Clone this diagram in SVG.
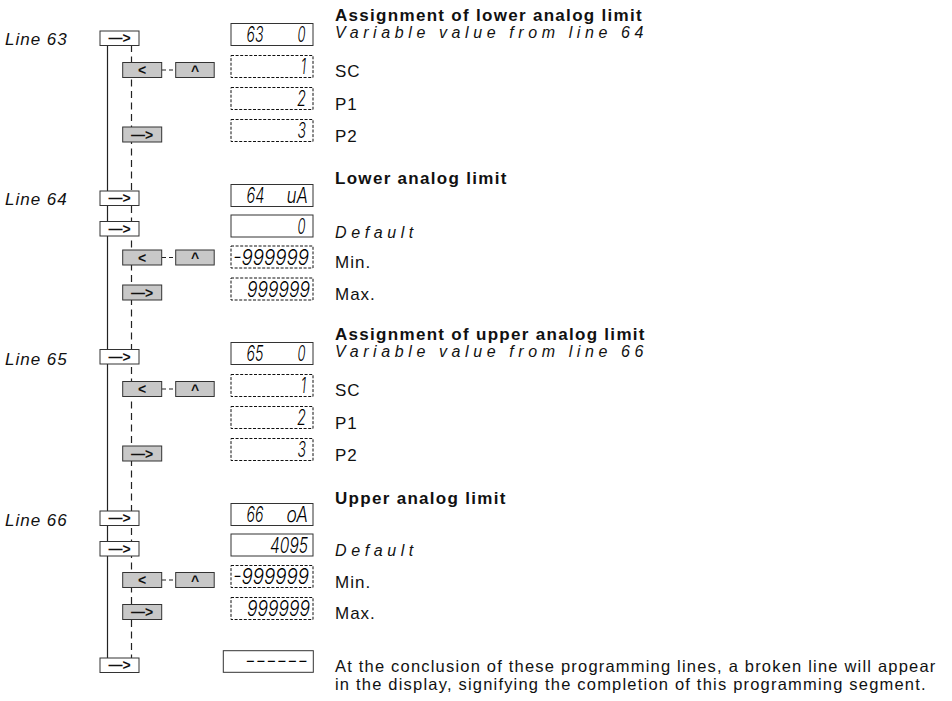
<svg xmlns="http://www.w3.org/2000/svg" width="952" height="701" viewBox="0 0 952 701">
<style>
text{fill:#111}
.lbl{font-family:"Liberation Sans",Arial,sans-serif;font-size:17px;font-style:italic;letter-spacing:1px}
.h{font-family:"Liberation Sans",Arial,sans-serif;font-size:17px;font-weight:bold;letter-spacing:1.3px}
.it{font-family:"Liberation Sans",Arial,sans-serif;font-size:16px;font-style:italic;letter-spacing:4.6px}
.t{font-family:"Liberation Sans",Arial,sans-serif;font-size:17px;letter-spacing:1px}
.p{font-family:"Liberation Sans",Arial,sans-serif;font-size:16.5px;letter-spacing:1.2px}
.seg{font-family:Inter,"DejaVu Sans",sans-serif;font-size:22px;font-weight:300;font-style:italic}
text.seg{fill:#000}
.btn{fill:#fff;stroke:#333;stroke-width:1}
.gbtn{fill:#c8c8c8;stroke:#333;stroke-width:1}
.k{font-family:"Liberation Sans",Arial,sans-serif;font-size:14px;font-weight:bold;text-anchor:middle}
.disp{fill:#fff;stroke:#333;stroke-width:1}
.dd{fill:#fff;stroke:#111;stroke-width:1;stroke-dasharray:3 1.6}
.solid{stroke:#222;stroke-width:1.2;fill:none}
.dash{stroke:#222;stroke-width:1.2;fill:none;stroke-dasharray:7 4.5}
.hd{stroke:#222;stroke-width:1.2;fill:none;stroke-dasharray:4 3}
</style>

<g id="connectors">
<line class="solid" x1="107.5" y1="45" x2="107.5" y2="658"/>
<line class="dash" x1="131.5" y1="45" x2="131.5" y2="658"/>
<line class="hd" x1="162" y1="70" x2="176" y2="70"/>
<line class="hd" x1="162" y1="257.5" x2="176" y2="257.5"/>
<line class="hd" x1="162" y1="389" x2="176" y2="389"/>
<line class="hd" x1="162" y1="580" x2="176" y2="580"/>
</g>

<!-- Section Line 63 -->
<g id="line63">
<text class="lbl" x="5" y="45">Line 63</text>
<rect class="btn" x="100" y="31" width="39" height="14.5"/>
<text class="k" x="119.5" y="43">—&gt;</text>
</g>
<g id="sec63-keys">
<rect class="gbtn" x="122.7" y="62.5" width="39" height="15"/>
<text class="k" x="142.2" y="75">&lt;</text>
<rect class="gbtn" x="175.7" y="62.5" width="38.5" height="15"/>
<text class="k" x="195" y="75.5">^</text>
<rect class="gbtn" x="122.7" y="127" width="39" height="15"/>
<text class="k" x="142.2" y="139.5">—&gt;</text>
</g>
<g id="disp63">
<rect class="disp" x="231" y="23.5" width="82" height="22"/>
<text class="seg" x="246.5" y="42.3" textLength="17" lengthAdjust="spacingAndGlyphs">63</text>
<text class="seg" x="297.5" y="42.3" textLength="8" lengthAdjust="spacingAndGlyphs">0</text>
<rect class="dd" x="231" y="55.5" width="82" height="22"/>
<text class="seg" x="301" y="74.3" textLength="5" lengthAdjust="spacingAndGlyphs">1</text>
<rect class="dd" x="231" y="87.5" width="82" height="22"/>
<text class="seg" x="297" y="106.3" textLength="9" lengthAdjust="spacingAndGlyphs">2</text>
<rect class="dd" x="231" y="119.5" width="82" height="22"/>
<text class="seg" x="297.5" y="138.3" textLength="8.5" lengthAdjust="spacingAndGlyphs">3</text>
</g>
<g id="text63">
<text class="h" x="335" y="21">Assignment of lower analog limit</text>
<text class="it" x="335" y="38">Variable value from line 64</text>
<text class="t" x="335" y="77">SC</text>
<text class="t" x="335" y="110">P1</text>
<text class="t" x="335" y="142">P2</text>
</g>

<!-- Section Line 64 -->
<g id="line64">
<text class="lbl" x="5" y="205">Line 64</text>
<rect class="btn" x="100" y="191" width="39" height="14.5"/>
<text class="k" x="119.5" y="203">—&gt;</text>
<rect class="btn" x="100" y="221.5" width="39" height="14.5"/>
<text class="k" x="119.5" y="233.5">—&gt;</text>
</g>
<g id="sec64-keys">
<rect class="gbtn" x="122.7" y="250" width="39" height="15"/>
<text class="k" x="142.2" y="262.5">&lt;</text>
<rect class="gbtn" x="175.7" y="250" width="38.5" height="15"/>
<text class="k" x="195" y="263">^</text>
<rect class="gbtn" x="122.7" y="285" width="39" height="15"/>
<text class="k" x="142.2" y="297.5">—&gt;</text>
</g>
<g id="disp64">
<rect class="disp" x="231" y="184.5" width="82" height="22"/>
<text class="seg" x="246.5" y="203.3" textLength="18" lengthAdjust="spacingAndGlyphs">64</text>
<text class="seg" x="286.5" y="203.3" textLength="21.5" lengthAdjust="spacingAndGlyphs">uA</text>
<rect class="disp" x="231" y="215" width="82" height="22"/>
<text class="seg" x="297.5" y="233.8" textLength="8" lengthAdjust="spacingAndGlyphs">0</text>
<rect class="dd" x="231" y="246" width="82" height="22"/>
<text class="seg" x="233" y="264.8" textLength="76" lengthAdjust="spacingAndGlyphs">-999999</text>
<rect class="dd" x="231" y="278" width="82" height="22"/>
<text class="seg" x="247" y="296.8" textLength="63" lengthAdjust="spacingAndGlyphs">999999</text>
</g>
<g id="text64">
<text class="h" x="335" y="184">Lower analog limit</text>
<text class="it" x="335" y="237.5">Default</text>
<text class="t" x="335" y="268.3">Min.</text>
<text class="t" x="335" y="300">Max.</text>
</g>

<!-- Section Line 65 -->
<g id="line65">
<text class="lbl" x="5" y="364.5">Line 65</text>
<rect class="btn" x="100" y="349.5" width="39" height="14.5"/>
<text class="k" x="119.5" y="361.5">—&gt;</text>
</g>
<g id="sec65-keys">
<rect class="gbtn" x="122.7" y="381.5" width="39" height="15"/>
<text class="k" x="142.2" y="394">&lt;</text>
<rect class="gbtn" x="175.7" y="381.5" width="38.5" height="15"/>
<text class="k" x="195" y="394.5">^</text>
<rect class="gbtn" x="122.7" y="446" width="39" height="15"/>
<text class="k" x="142.2" y="458.5">—&gt;</text>
</g>
<g id="disp65">
<rect class="disp" x="231" y="342.5" width="82" height="22"/>
<text class="seg" x="246.5" y="361.3" textLength="17" lengthAdjust="spacingAndGlyphs">65</text>
<text class="seg" x="297.5" y="361.3" textLength="8" lengthAdjust="spacingAndGlyphs">0</text>
<rect class="dd" x="231" y="374.5" width="82" height="22"/>
<text class="seg" x="301" y="393.3" textLength="5" lengthAdjust="spacingAndGlyphs">1</text>
<rect class="dd" x="231" y="406.5" width="82" height="22"/>
<text class="seg" x="297" y="425.3" textLength="9" lengthAdjust="spacingAndGlyphs">2</text>
<rect class="dd" x="231" y="438.5" width="82" height="22"/>
<text class="seg" x="297.5" y="457.3" textLength="8.5" lengthAdjust="spacingAndGlyphs">3</text>
</g>
<g id="text65">
<text class="h" x="335" y="340">Assignment of upper analog limit</text>
<text class="it" x="335" y="357">Variable value from line 66</text>
<text class="t" x="335" y="396">SC</text>
<text class="t" x="335" y="429">P1</text>
<text class="t" x="335" y="461">P2</text>
</g>

<!-- Section Line 66 -->
<g id="line66">
<text class="lbl" x="5" y="525.5">Line 66</text>
<rect class="btn" x="100" y="511" width="39" height="14.5"/>
<text class="k" x="119.5" y="523">—&gt;</text>
<rect class="btn" x="100" y="541.5" width="39" height="14.5"/>
<text class="k" x="119.5" y="553.5">—&gt;</text>
</g>
<g id="sec66-keys">
<rect class="gbtn" x="122.7" y="572.5" width="39" height="15"/>
<text class="k" x="142.2" y="585">&lt;</text>
<rect class="gbtn" x="175.7" y="572.5" width="38.5" height="15"/>
<text class="k" x="195" y="585.5">^</text>
<rect class="gbtn" x="122.7" y="604.5" width="39" height="15"/>
<text class="k" x="142.2" y="617">—&gt;</text>
</g>
<g id="disp66">
<rect class="disp" x="231" y="503.5" width="82" height="22"/>
<text class="seg" x="246.5" y="522.3" textLength="17" lengthAdjust="spacingAndGlyphs">66</text>
<text class="seg" x="286.5" y="522.3" textLength="21.5" lengthAdjust="spacingAndGlyphs">oA</text>
<rect class="disp" x="231" y="534" width="82" height="22"/>
<text class="seg" x="270" y="552.8" textLength="38" lengthAdjust="spacingAndGlyphs">4095</text>
<rect class="dd" x="231" y="565.5" width="82" height="22"/>
<text class="seg" x="233" y="584.3" textLength="76" lengthAdjust="spacingAndGlyphs">-999999</text>
<rect class="dd" x="231" y="597.5" width="82" height="22"/>
<text class="seg" x="247" y="616.3" textLength="63" lengthAdjust="spacingAndGlyphs">999999</text>
</g>
<g id="text66">
<text class="h" x="335" y="503.5">Upper analog limit</text>
<text class="it" x="335" y="556">Default</text>
<text class="t" x="335" y="587.7">Min.</text>
<text class="t" x="335" y="619.3">Max.</text>
</g>

<!-- End -->
<g id="end">
<rect class="btn" x="100" y="658" width="39" height="14.5"/>
<text class="k" x="119.5" y="670">—&gt;</text>
</g>
<g id="disp-end">
<rect class="disp" x="223.3" y="650.7" width="90" height="21.6"/>
<text class="seg" x="245" y="668" textLength="63" lengthAdjust="spacingAndGlyphs">------</text>
</g>
<g id="text-end">
<text class="p" x="335" y="671.5">At the conclusion of these programming lines, a broken line will appear</text>
<text class="p" x="335" y="690">in the display, signifying the completion of this programming segment.</text>
</g>
</svg>
